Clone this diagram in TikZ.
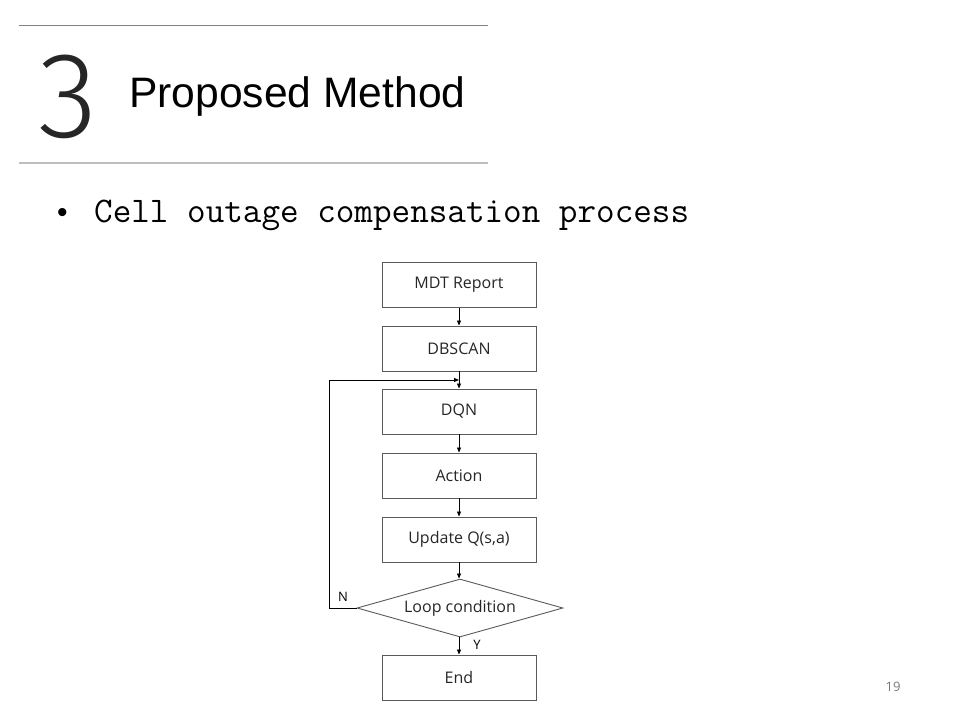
\documentclass[tikz,border=0pt]{standalone}
\usepackage{fontspec}
\setmainfont{Liberation Sans}
\newfontfamily\numfont{Fira Sans Light}
\newfontfamily\boxfont{Open Sans}
\newfontfamily\bodyfont{Latin Modern Mono}
\usetikzlibrary{shapes.geometric,arrows.meta}
\definecolor{rulegray}{RGB}{130,130,130}
\definecolor{rulelight}{RGB}{190,190,190}
\definecolor{boxline}{RGB}{90,90,90}
\definecolor{pagenum}{RGB}{120,120,120}
\tikzset{
  flowbox/.style={draw=boxline, line width=0.9pt, minimum width=154pt, minimum height=45pt,
    inner sep=0pt, text=black!85, font=\boxfont\fontsize{16}{18}\selectfont},
  decision/.style={draw=boxline, line width=0.9pt, diamond, aspect=3.55, minimum width=206pt,
    minimum height=58pt, inner sep=0pt, text=black!85, font=\boxfont\fontsize{16}{18}\selectfont},
  flow/.style={line width=0.8pt, -{Triangle[length=5pt,width=4pt]}},
  tag/.style={font=\boxfont\fontsize{13}{14}\selectfont, inner sep=0pt}
}
\begin{document}
\begin{tikzpicture}[x=1pt,y=-1pt]
\useasboundingbox (0,0) rectangle (960,720);
% title block
\draw[rulegray, line width=1pt] (19,25) -- (488,25);
\draw[rulelight, line width=1.5pt] (19,163) -- (488,163);
\node[anchor=base west, inner sep=0pt, text=black!85, font=\numfont\fontsize{122}{122}\selectfont] (num) at (38,137) {3};
\node[anchor=base west, inner sep=0pt, font=\fontsize{42.6}{44}\selectfont] (title) at (129,107) {Proposed Method};
\node[anchor=base west, inner sep=0pt, font=\fontsize{30}{30}\selectfont] (bullet) at (57,222) {\textbullet};
\node[anchor=base west, inner sep=0pt, font=\bodyfont\fontsize{36.1}{37}\selectfont] (item) at (94,222) {Cell outage compensation process};
% flowchart
\node[flowbox] (mdt) at (459,285) {MDT Report};
\node[flowbox] (dbscan) at (459,348.5) {DBSCAN};
\node[flowbox] (dqn) at (459,411.5) {DQN};
\node[flowbox] (action) at (459,475.5) {Action};
\node[flowbox] (update) at (459,539.5) {Update Q(s,a)};
\node[decision] (loop) at (460,608) {Loop condition};
\node[flowbox] (end) at (459,677.5) {End};
\coordinate (merge) at (459,380);
\coordinate (backup) at (329,380);
\draw[flow] (mdt) -- (dbscan);
\draw[flow] (dbscan) -- (dqn);
\draw[flow] (dqn) -- (action);
\draw[flow] (action) -- (update);
\draw[flow] (update) -- (update |- loop.north);
\draw[flow] (update |- loop.south) -- (end);
\draw[flow] (loop.west) -| (backup) -- (merge);
\node[tag] (n) at (343,597) {N};
\node[tag] (y) at (477,645) {Y};
\node[inner sep=0pt, text=pagenum, font=\boxfont\fontsize{13}{14}\selectfont] (page) at (893,687) {19};
\end{tikzpicture}
\end{document}
